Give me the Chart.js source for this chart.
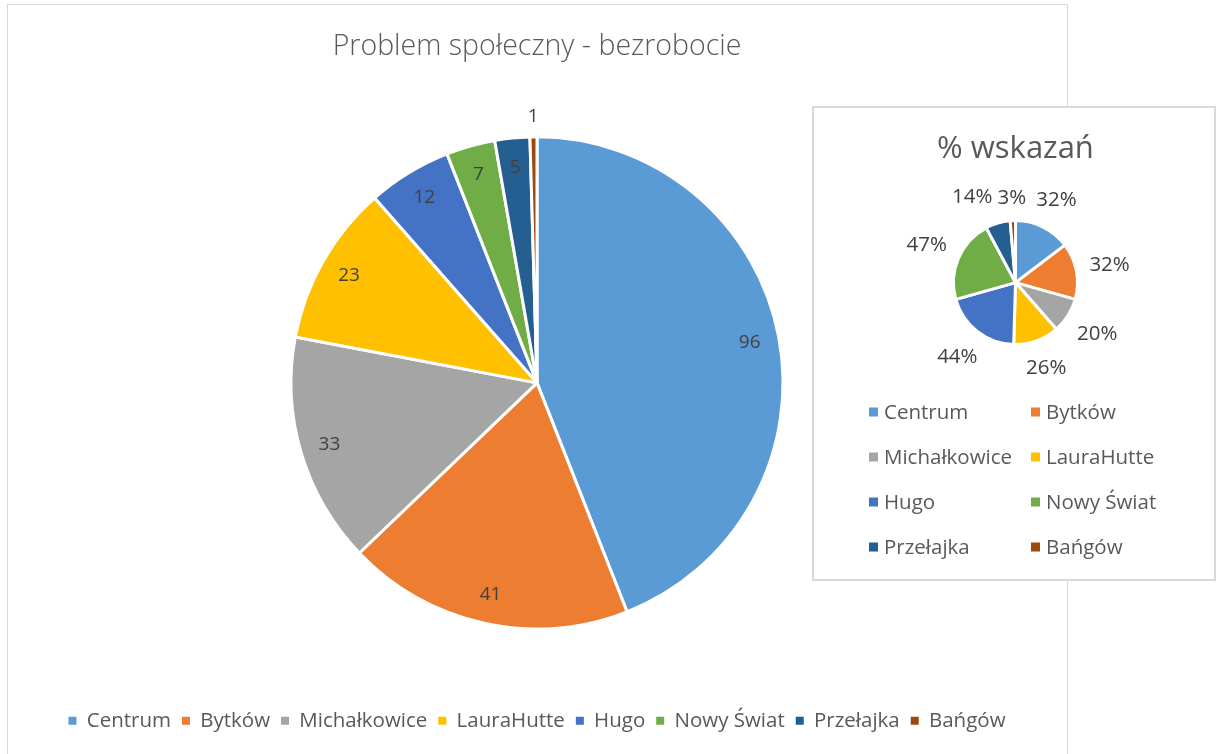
<!DOCTYPE html>
<html>
<head>
<meta charset="utf-8">
<script src="https://cdn.jsdelivr.net/npm/chart.js@4.4.1/dist/chart.umd.min.js"></script>
<style>
  html, body { margin: 0; padding: 0; background: #fff; overflow: hidden; }
  .frame { position: absolute; left: 7px; top: 4px; width: 1059px; height: 800px; border: 1px solid #d9d9d9; }
  .main { position: absolute; left: 8px; top: 5px; width: 1058px; height: 749px; }
  .inset { position: absolute; left: 812px; top: 106px; width: 400px; height: 471px; border: 2px solid #d9d9d9; background: #fff; }
</style>
</head>
<body>
<div class="frame"></div>
<div class="main"><canvas id="mainChart"></canvas></div>
<div class="inset"><canvas id="insetChart"></canvas></div>
<script>
const districts = ['Centrum', 'Bytków', 'Michałkowice', 'LauraHutte', 'Hugo', 'Nowy Świat', 'Przełajka', 'Bańgów'];
const unemploymentCounts = [96, 41, 33, 23, 12, 7, 5, 1];
const percentIndications = [32, 32, 20, 26, 44, 47, 14, 3];
const sliceColors = ['#5B9BD5', '#ED7D31', '#A5A5A5', '#FFC000', '#4472C4', '#70AD47', '#255E91', '#9E480E'];

const FONT = "'Open Sans', sans-serif";
Chart.defaults.font.family = FONT;
Chart.defaults.color = '#595959';

// data labels: inside end for big slices, outside for tiny ones (or all, if outside)
const pieLabels = {
  id: 'pieLabels',
  afterDatasetsDraw(chart, args, opts) {
    const ctx = chart.ctx;
    const meta = chart.getDatasetMeta(0);
    const data = chart.data.datasets[0].data;
    const total = data.reduce((a, b) => a + b, 0);
    const h = opts.size;
    ctx.save();
    ctx.font = h + 'px ' + FONT;
    ctx.fillStyle = opts.color;
    ctx.textAlign = 'center';
    ctx.textBaseline = 'middle';
    const boxes = meta.data.map((arc, i) => {
      const p = arc.getProps(['x', 'y', 'startAngle', 'endAngle', 'outerRadius'], true);
      const mid = (p.startAngle + p.endAngle) / 2;
      const text = opts.format(data[i]);
      const w = ctx.measureText(text).width;
      const outside = opts.outside || data[i] / total < 0.01;
      let r;
      if (outside) {
        r = p.outerRadius + opts.gap + Math.abs(Math.cos(mid)) * w / 2 + Math.abs(Math.sin(mid)) * h / 2;
      } else {
        r = p.outerRadius * opts.inset;
      }
      return { text, w, outside, x: p.x + Math.cos(mid) * r, y: p.y + Math.sin(mid) * r };
    });
    // push colliding outside labels to the left
    for (let i = boxes.length - 2; i >= 0; i--) {
      const a = boxes[i], b = boxes[i + 1];
      if (!a.outside || !b.outside) continue;
      const overlap = (a.x + a.w / 2 + 5) - (b.x - b.w / 2);
      if (Math.abs(a.y - b.y) < h && overlap > 0 && a.x < b.x) a.x -= overlap;
    }
    boxes.forEach(b => ctx.fillText(b.text, b.x, b.y));
    ctx.restore();
  }
};

// two column legend for the small chart
const gridLegend = {
  id: 'gridLegend',
  afterDraw(chart, args, opts) {
    const ctx = chart.ctx;
    ctx.save();
    ctx.font = opts.size + 'px ' + FONT;
    ctx.textBaseline = 'middle';
    ctx.textAlign = 'left';
    chart.data.labels.forEach((label, i) => {
      const col = i % 2, row = Math.floor(i / 2);
      const x = opts.colX[col];
      const y = opts.top + row * opts.rowHeight;
      ctx.fillStyle = chart.data.datasets[0].backgroundColor[i];
      ctx.fillRect(x, y - opts.box / 2, opts.box, opts.box);
      ctx.fillStyle = '#595959';
      ctx.fillText(label, x + opts.box + 6, y + 1);
    });
    ctx.restore();
  }
};

const defaultLabels = Chart.overrides.pie.plugins.legend.labels.generateLabels;

new Chart(document.getElementById('mainChart'), {
  type: 'pie',
  data: {
    labels: districts,
    datasets: [{
      data: unemploymentCounts,
      backgroundColor: sliceColors,
      borderColor: '#ffffff',
      borderWidth: 3,
      radius: 246,
    }],
  },
  options: {
    responsive: true,
    maintainAspectRatio: false,
    animation: false,
    events: [],
    plugins: {
      title: {
        display: true,
        text: 'Problem społeczny - bezrobocie',
        color: '#595959',
        font: { size: 28.5, weight: 300 },
        padding: { top: 25, bottom: 2 },
      },
      legend: {
        position: 'bottom',
        labels: {
          boxWidth: 8, boxHeight: 8, padding: 11, font: { size: 20.5 }, color: '#595959',
          generateLabels: chart => defaultLabels(chart).map(l => ({ ...l, lineWidth: 0 })),
        },
      },
      tooltip: { enabled: false },
      pieLabels: { size: 19, color: '#404040', inset: 0.88, gap: 11, outside: false, format: v => String(v) },
    },
    layout: { padding: { bottom: 13 } },
  },
  plugins: [pieLabels],
});

new Chart(document.getElementById('insetChart'), {
  type: 'pie',
  data: {
    labels: districts,
    datasets: [{
      data: percentIndications,
      backgroundColor: sliceColors,
      borderColor: '#ffffff',
      borderWidth: 3,
      radius: 62,
    }],
  },
  options: {
    responsive: true,
    maintainAspectRatio: false,
    animation: false,
    events: [],
    plugins: {
      title: {
        display: true,
        text: '% wskazań',
        color: '#595959',
        font: { size: 31, weight: 'normal' },
        padding: { top: 23, bottom: 52 },
      },
      legend: { display: false },
      tooltip: { enabled: false },
      pieLabels: { size: 20.5, color: '#404040', gap: 12, outside: true, format: v => v + '%' },
      gridLegend: { size: 20.5, colX: [55, 217], top: 304, rowHeight: 45, box: 9 },
    },
    layout: { padding: { left: 3, bottom: 234 } },
  },
  plugins: [pieLabels, gridLegend],
});
</script>
</body>
</html>
